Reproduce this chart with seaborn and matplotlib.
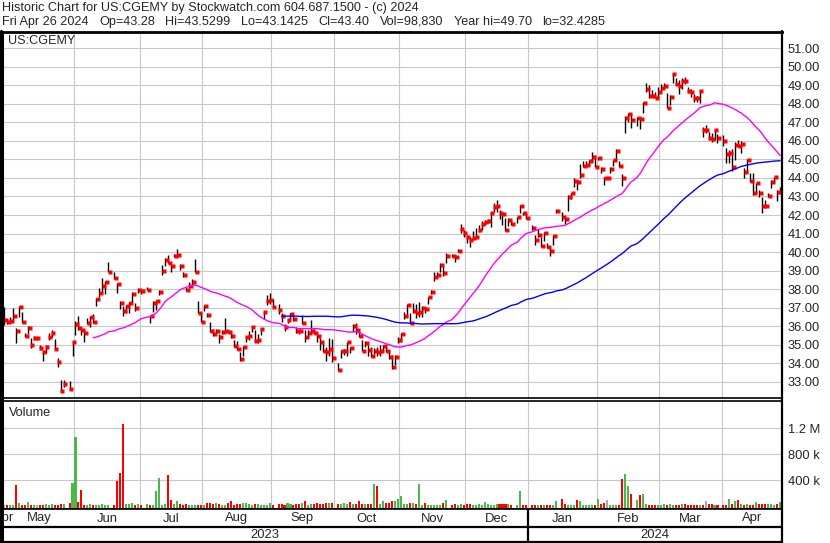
import numpy as np
import pandas as pd
import matplotlib
matplotlib.use("Agg")
import matplotlib.pyplot as plt
from matplotlib.lines import Line2D
import seaborn as sns

# ---------------- data ----------------
first_day = "2023-04-28"
last_day = "2024-04-26"
no_trade_days = ["2023-05-29", "2023-06-19", "2023-07-04", "2023-09-04", "2023-10-02",
                 "2023-11-23", "2023-12-25", "2024-01-01", "2024-01-15", "2024-02-19",
                 "2024-03-29"]

high = [37.05, 36.40, 36.50, 36.96, 35.87, 37.10, 36.78, 35.60, 36.00, 35.33, 35.46, 35.42, 34.96, 34.70, 34.97,
        35.60, 35.78, 35.32, 34.25, 33.08, 33.08, 33.05, 35.15, 36.27, 36.54, 35.91, 35.78, 36.42, 36.54, 36.65,
        37.50, 38.07, 38.58, 38.43, 39.48, 38.90, 38.34, 37.35, 37.10, 37.14, 37.32, 37.82, 37.26, 38.04, 37.98,
        38.13, 36.60, 37.35, 37.41, 37.95, 39.30, 39.66, 39.84, 39.30, 39.89, 40.15, 39.35, 38.94, 38.13, 38.36,
        38.54, 39.62, 37.35, 36.72, 37.14,
        36.68, 36.23, 35.82, 35.84, 35.55, 35.78, 36.45, 35.78, 35.66, 35.24, 35.19, 34.61, 34.92, 35.42, 35.73,
        36.00, 35.78, 35.55, 35.87, 36.77, 37.68, 37.80, 37.44, 37.17, 36.68,
        36.09, 36.38, 36.68, 36.59, 35.96, 35.87, 36.59, 35.78, 35.78, 36.32, 35.82, 35.51, 35.33, 35.10, 34.88,
        35.33, 35.28, 33.98, 34.70, 34.74, 35.15, 34.88, 36.09, 36.14, 35.78, 35.24, 35.19, 34.97, 34.88, 34.83,
        34.88, 34.97, 34.97, 34.88, 34.70, 34.43, 34.43, 35.42, 35.64, 36.77,
        37.19, 36.68, 37.26, 37.19, 37.31, 37.08, 37.05, 37.58, 37.95, 38.94, 38.94, 39.39, 39.30, 39.96, 39.87,
        39.84, 40.16, 41.51, 41.19, 40.92, 40.79, 41.14, 41.28, 41.46, 41.68, 41.73, 41.78, 42.18, 42.63, 42.81,
        42.27, 42.09, 41.86, 41.82, 41.73, 41.91, 42.54, 42.18, 42.13, 41.46, 40.92, 41.23, 40.83, 41.10, 40.47,
        40.20, 40.92, 42.31, 42.18, 41.91, 43.08, 43.21, 43.98, 43.84, 44.74, 44.94, 44.94, 44.97, 45.39,
        45.24, 45.15, 44.61, 44.07, 44.07, 44.58, 44.97, 45.55, 44.94, 44.20, 47.35, 47.53, 47.49, 47.31, 47.26,
        48.09, 49.12, 49.03, 48.76, 48.67, 48.90, 49.08, 49.12, 48.61, 48.49, 49.70, 49.39, 49.30, 49.39, 49.48,
        48.94, 48.79, 48.52, 48.43, 48.76, 46.77, 46.86, 46.50, 46.41, 46.63, 46.38,
        46.32, 45.60, 45.51, 45.55, 45.96, 46.05, 46.02, 44.52, 45.03, 44.29, 44.25, 43.75, 43.35, 42.95, 42.81,
        43.17, 43.89, 44.07, 43.35, 43.53]

low = [36.06, 36.10, 36.15, 36.33, 35.10, 36.51, 36.15, 35.39, 35.57, 34.79, 35.24, 35.24, 34.70, 34.13, 34.52,
       35.24, 35.42, 34.74, 33.80, 32.43, 32.72, 32.54, 34.38, 35.51, 35.78, 35.51, 35.12, 36.11, 35.96, 36.15,
       37.10, 37.59, 37.77, 37.73, 38.90, 38.52, 37.80, 36.92, 36.54, 36.69, 36.69, 37.32, 36.81, 37.77, 37.73,
       37.95, 36.15, 36.78, 36.87, 37.68, 38.76, 39.26, 39.39, 38.90, 39.71, 39.75, 39.03, 38.67, 37.91, 38.04,
       38.22, 38.90, 36.69, 36.24, 36.83,
       36.47, 35.69, 35.48, 35.60, 35.06, 35.57, 35.69, 35.60, 35.33, 34.88, 34.70, 34.13, 34.38, 35.15, 35.24,
       35.69, 35.12, 35.10, 35.51, 36.36, 37.13, 37.17, 37.04, 36.65, 36.20,
       35.75, 36.18, 36.36, 36.27, 35.64, 35.55, 36.11, 35.15, 35.42, 35.60, 35.57, 35.15, 34.70, 34.58, 34.13,
       34.40, 34.07, 33.58, 34.25, 34.43, 34.38, 34.52, 35.69, 35.55, 35.39, 34.67, 34.88, 34.38, 34.34, 34.49,
       34.38, 34.38, 34.65, 34.61, 34.20, 33.66, 33.89, 35.06, 35.15, 36.36,
       36.50, 36.11, 36.68, 36.41, 36.50, 36.50, 36.68, 37.19, 37.73, 38.45, 38.67, 38.94, 38.70, 39.42, 39.71,
       39.48, 39.98, 41.05, 40.79, 40.47, 40.29, 40.69, 40.79, 41.10, 41.19, 41.46, 41.55, 41.33, 42.18, 42.18,
       41.77, 41.46, 41.15, 41.40, 41.46, 41.55, 42.13, 42.00, 41.77, 41.19, 40.38, 40.83, 40.29, 40.61, 40.23,
       39.78, 40.38, 42.13, 41.69, 41.51, 42.23, 42.85, 43.50, 43.35, 43.98, 44.58, 44.61, 44.67, 44.88,
       44.58, 44.97, 44.25, 43.62, 43.93, 44.25, 44.65, 44.97, 44.58, 43.57, 46.45, 47.04, 46.68, 46.81, 46.63,
       47.49, 48.63, 48.31, 48.40, 48.31, 48.40, 48.72, 48.79, 47.77, 47.95, 49.12, 49.03, 48.52, 48.79, 49.08,
       48.58, 48.36, 48.13, 48.09, 48.07, 46.20, 46.45, 46.05, 45.96, 46.05, 45.87,
       45.73, 44.79, 44.83, 44.40, 44.97, 45.69, 45.33, 43.98, 44.29, 43.80, 43.08, 43.21, 42.95, 42.13, 42.36,
       42.95, 43.44, 43.80, 42.75, 43.14]

close = [36.33, 36.24, 36.29, 36.54, 35.75, 37.05, 36.24, 35.46, 35.89, 34.97, 35.35, 35.35, 34.79, 34.61, 34.88,
         35.42, 35.64, 34.77, 34.05, 32.50, 32.87, 32.61, 35.15, 36.11, 35.87, 35.78, 35.64, 36.18, 36.51, 36.24,
         37.46, 37.77, 38.18, 38.36, 38.94, 38.58, 38.29, 37.23, 36.83, 37.08, 37.23, 37.71, 36.96, 37.95, 37.89,
         37.97, 36.54, 37.26, 37.35, 37.86, 38.97, 39.57, 39.42, 39.24, 39.80, 39.84, 39.26, 38.76, 37.95, 38.18,
         38.40, 38.90, 36.72, 36.24, 37.08,
         36.59, 35.75, 35.55, 35.75, 35.42, 35.66, 35.75, 35.66, 35.48, 34.94, 34.76, 34.22, 34.88, 35.42, 35.48,
         35.93, 35.21, 35.24, 35.82, 36.74, 37.37, 37.40, 37.04, 36.86, 36.54,
         35.96, 36.32, 36.63, 36.36, 35.73, 35.71, 36.14, 35.39, 35.64, 35.73, 35.64, 35.48, 35.12, 34.65, 34.61,
         34.76, 34.29, 33.64, 34.66, 34.67, 35.12, 34.79, 36.02, 35.78, 35.46, 34.67, 35.06, 34.70, 34.40, 34.67,
         34.61, 34.65, 34.94, 34.65, 34.34, 33.80, 34.34, 35.24, 35.57, 36.56,
         37.14, 36.14, 36.83, 36.68, 36.77, 36.99, 36.92, 37.55, 37.86, 38.67, 38.76, 39.30, 38.88, 39.78, 39.76,
         39.75, 40.07, 41.24, 41.01, 40.83, 40.65, 40.77, 40.83, 41.19, 41.51, 41.64, 41.69, 42.09, 42.45, 42.47,
         42.09, 42.05, 41.19, 41.73, 41.51, 41.87, 42.49, 42.09, 41.86, 41.28, 40.65, 40.92, 40.32, 41.05, 40.29,
         40.07, 40.86, 42.23, 41.91, 41.77, 42.99, 43.17, 43.86, 43.77, 44.16, 44.67, 44.69, 44.92, 45.15,
         44.61, 45.10, 44.47, 44.02, 44.02, 44.47, 44.97, 45.48, 44.67, 43.98, 47.26, 47.46, 47.14, 47.22, 47.19,
         48.07, 48.81, 48.45, 48.43, 48.34, 48.67, 48.85, 48.97, 47.80, 48.40, 49.62, 49.08, 48.99, 49.26, 49.24,
         48.70, 48.63, 48.34, 48.31, 48.72, 46.59, 46.59, 46.18, 46.11, 46.59, 46.14,
         46.02, 45.30, 45.37, 44.61, 45.78, 45.72, 45.84, 44.34, 44.97, 43.85, 43.21, 43.71, 43.21, 42.50, 42.48,
         43.03, 43.80, 44.04, 43.24, 43.40]

volume_k = [15, 20, 15, 15, 325, 40, 12, 10, 57, 15, 15, 15, 10, 15, 25, 10, 25, 18, 10, 25, 35,
            52, 360, 1070, 67, 248, 10, 18, 35, 15, 15, 15, 35, 15, 10, 15, 392, 510, 1270, 35, 35, 40, 15, 35, 10,
            25, 10, 15, 232, 433, 15, 25, 480, 93, 35, 77, 25, 10, 25, 18, 20, 15, 18, 20, 18,
            45, 45, 25, 45, 30, 15, 20, 45, 77, 20, 30, 35, 40, 40, 25, 15, 25, 25, 15, 10, 10, 40, 15, 35, 25,
            15, 45, 25, 15, 25, 25, 45, 77, 10, 35, 35, 45, 25, 35, 45, 45, 45, 35, 35, 40,
            25, 57, 35, 25, 77, 35, 25, 25, 30, 340, 310, 30, 77, 52, 52, 77, 77, 108, 155, 25,
            25, 52, 40, 30, 340,
            15, 40, 15, 10, 15, 15, 15, 40, 93, 15, 25, 10, 25, 15, 25, 25, 10, 10, 25, 15,
            57, 25, 15, 10, 30, 25, 30, 25, 30, 20, 15, 232, 15, 10, 15, 15, 10, 15, 10, 10,
            10, 15, 77, 108, 30, 15, 15, 15, 93, 77, 20, 15, 15, 15,
            15, 108, 25, 40, 93, 15, 15, 15, 15, 418, 495, 310, 186, 93, 170, 186, 25, 10, 15, 10,
            15, 15, 25, 15, 30, 20, 20, 15, 25, 25, 10, 10, 10, 15, 15, 15, 77, 25, 25, 15, 10,
            15, 15, 108, 30, 77, 93, 30, 15, 25, 15, 15, 57, 35, 35, 25, 30, 25, 20, 25, 62]

price_ticks = [33, 34, 35, 36, 37, 38, 39, 40, 41, 42, 43, 44, 45, 46, 47, 48, 49, 50, 51]
volume_ticks = [400000, 800000, 1200000]
volume_tick_labels = ["400 k", "800 k", "1.2 M"]
ma_windows = [30, 90]

title_line1 = "Historic Chart for US:CGEMY by Stockwatch.com 604.687.1500 - (c) 2024"
title_fields = ["Fri Apr 26 2024", "Op=43.28", "Hi=43.5299", "Lo=43.1425", "Cl=43.40",
                "Vol=98,830", "Year hi=49.70", "lo=32.4285"]

# ---------------- style ----------------
sns.set_theme(style="white")
plt.rcParams["font.family"] = ["Liberation Sans", "DejaVu Sans"]

GRID = "#c8c8c8"
GREEN = "#4cb84c"
RED = "#ff0000"
GRAY = "#a8a8a8"
FS = 9.1

weekdays = pd.bdate_range(first_day, last_day)
trade_dates = weekdays[~weekdays.isin(pd.to_datetime(no_trade_days))]
slots = weekdays.get_indexer(trade_dates)

df = pd.DataFrame({"date": trade_dates, "slot": slots, "high": high, "low": low,
                   "close": close, "volume": np.array(volume_k, dtype=float) * 1000})
df["ma_short"] = df["close"].rolling(ma_windows[0]).mean()
df["ma_long"] = df["close"].rolling(ma_windows[1]).mean()
chg = df["close"].diff().fillna(0).round(4)
vcol = np.where(chg > 0, GREEN, np.where(chg < 0, RED, GRAY))

W, H = 830, 543
fig = plt.figure(figsize=(W / 100, H / 100), dpi=100)
fig.patch.set_facecolor("white")


def rect(x0, y0, x1, y1):
    return [x0 / W, 1 - y1 / H, (x1 - x0) / W, (y1 - y0) / H]


XL, XR = 2, 781.7
axp = fig.add_axes(rect(XL, 32, XR, 398))
axv = fig.add_axes(rect(XL, 401, XR, 508.5))
axd = fig.add_axes(rect(XL, 508.5, XR, 542))
XLIM = (-0.61, 260.5)

# month structure
slot_ser = pd.Series(np.arange(len(weekdays)), index=weekdays)
grp = slot_ser.groupby([weekdays.year, weekdays.month])
m_first = grp.min()
m_last = grp.max()
bounds = [f - 0.5 for f in m_first.values if f > 2]

# ---------------- price panel ----------------
axp.set_xlim(*XLIM)
axp.set_ylim(32.11, 51.89)
for p in price_ticks:
    axp.axhline(p, color=GRID, lw=0.8, zorder=0)
for b in bounds:
    axp.axvline(b, color=GRID, lw=0.8, zorder=0)

axp.vlines(df["slot"], df["low"], df["high"], colors="black", lw=1.0, zorder=2)
axp.plot(df["slot"] + 0.6, df["close"], ls="none", marker="s", ms=2.3,
         mfc="red", mec="none", zorder=3)
sns.lineplot(data=df, x="slot", y="ma_short", ax=axp, color="#ff00ff", lw=1.0, zorder=4)
sns.lineplot(data=df, x="slot", y="ma_long", ax=axp, color="#0000ff", lw=1.0, zorder=4)

axp.yaxis.tick_right()
axp.set_yticks(price_ticks)
axp.set_yticklabels([f"{p:.2f}" for p in price_ticks])
axp.tick_params(axis="y", length=0, pad=4.5, labelsize=FS + 0.2)
axp.set_xticks([])
axp.set_xlabel("")
axp.set_ylabel("")

# ---------------- volume panel ----------------
VMIN, VMAX = -38700, 1625000
axv.set_xlim(*XLIM)
axv.set_ylim(VMIN, VMAX)
for v in volume_ticks:
    axv.axhline(v, color=GRID, lw=0.8, zorder=0)
for b in bounds:
    axv.axvline(b, color=GRID, lw=0.8, zorder=0)
axv.bar(df["slot"], df["volume"] - VMIN, bottom=VMIN, width=0.68, color=vcol, lw=0,
        zorder=2, antialiased=False)
axv.yaxis.tick_right()
axv.set_yticks(volume_ticks)
axv.set_yticklabels(volume_tick_labels)
axv.tick_params(axis="y", length=0, pad=4.5, labelsize=FS + 0.2)
axv.set_xticks([])

# ---------------- date rows ----------------
axd.set_xlim(*XLIM)
axd.set_ylim(0, 1)
axd.set_xticks([])
axd.set_yticks([])
split = (542 - 526.5) / 33.5
axd.axhline(split, color="black", lw=1.6)
for (yr, mo), f in m_first.items():
    l = m_last[(yr, mo)]
    name = pd.Timestamp(year=yr, month=mo, day=1).strftime("%b")
    axd.text((f + l) / 2, (542 - 518.5) / 33.5, name, ha="center", va="center",
             fontsize=FS + 0.3, clip_on=True)
yr_first = slot_ser.groupby(weekdays.year).min()
yr_last = slot_ser.groupby(weekdays.year).max()
for yr in yr_first.index:
    axd.text((yr_first[yr] + yr_last[yr]) / 2, (542 - 535) / 33.5, str(yr),
             ha="center", va="center", fontsize=FS + 0.3)
    if yr_first[yr] > 0:
        axd.axvline(yr_first[yr] - 0.5, color="black", lw=1.6)

# spines
for ax in (axp, axv, axd):
    for side, sp in ax.spines.items():
        sp.set_color("black")
        sp.set_linewidth(1.2)
    ax.spines["left"].set_linewidth(2.2)
    ax.set_facecolor("white")
axp.spines["top"].set_linewidth(2.0)
axd.spines["bottom"].set_linewidth(1.6)

# borders spanning panels
fig.add_artist(Line2D([XR / W, XR / W], [0, 1 - 31 / H], color="black", lw=1.6))
fig.add_artist(Line2D([1 / W, 1 / W], [0, 1 - 31 / H], color="black", lw=2.2))

# texts
fig.text(2 / W, 1 - 8 / H, title_line1, fontsize=FS, va="center", ha="left")
renderer = fig.canvas.get_renderer()
xpos = 2.0
for field in title_fields:
    t = fig.text(xpos / W, 1 - 22 / H, field, fontsize=FS, va="center", ha="left")
    bb = t.get_window_extent(renderer)
    xpos = bb.x1 + 10.5
fig.text(8 / W, 1 - 41.5 / H, "US:CGEMY", fontsize=FS, va="center", ha="left")
fig.text(9 / W, 1 - 413 / H, "Volume", fontsize=FS, va="center", ha="left")

fig.savefig("out.png", dpi=100, facecolor="white")
